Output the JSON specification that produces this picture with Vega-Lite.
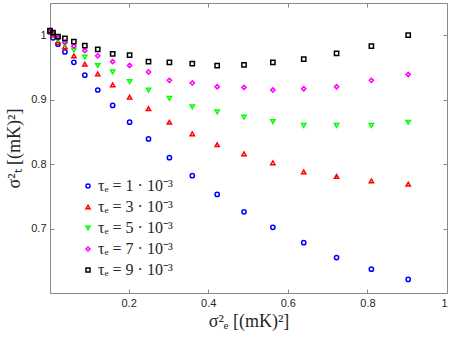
{
  "$schema": "https://vega.github.io/schema/vega-lite/v6.json",
  "width": 397,
  "height": 290,
  "autosize": {"type": "none"},
  "padding": {"left": 50, "top": 3, "right": 3, "bottom": 45},
  "background": "white",
  "config": {
    "view": {"stroke": "#8a8a8a", "strokeWidth": 1},
    "axis": {
      "grid": false,
      "domainColor": "#8a8a8a",
      "tickColor": "#8a8a8a",
      "tickSize": -4,
      "labelColor": "#262626",
      "labelFont": "Liberation Sans",
      "labelFontSize": 11,
      "titleFont": "Liberation Serif",
      "titleFontSize": 18,
      "titleFontWeight": "normal",
      "titleColor": "#262626"
    }
  },
  "data": {
    "values": [
      {"tau": "τₑ = 1 · 10⁻³", "x": 0.0025, "y": 1.005},
      {"tau": "τₑ = 1 · 10⁻³", "x": 0.01, "y": 0.996},
      {"tau": "τₑ = 1 · 10⁻³", "x": 0.0225, "y": 0.986},
      {"tau": "τₑ = 1 · 10⁻³", "x": 0.04, "y": 0.974},
      {"tau": "τₑ = 1 · 10⁻³", "x": 0.0625, "y": 0.958},
      {"tau": "τₑ = 1 · 10⁻³", "x": 0.09, "y": 0.938},
      {"tau": "τₑ = 1 · 10⁻³", "x": 0.1225, "y": 0.915},
      {"tau": "τₑ = 1 · 10⁻³", "x": 0.16, "y": 0.891},
      {"tau": "τₑ = 1 · 10⁻³", "x": 0.2025, "y": 0.865},
      {"tau": "τₑ = 1 · 10⁻³", "x": 0.25, "y": 0.839},
      {"tau": "τₑ = 1 · 10⁻³", "x": 0.3025, "y": 0.81},
      {"tau": "τₑ = 1 · 10⁻³", "x": 0.36, "y": 0.782},
      {"tau": "τₑ = 1 · 10⁻³", "x": 0.4225, "y": 0.753},
      {"tau": "τₑ = 1 · 10⁻³", "x": 0.49, "y": 0.726},
      {"tau": "τₑ = 1 · 10⁻³", "x": 0.5625, "y": 0.702},
      {"tau": "τₑ = 1 · 10⁻³", "x": 0.64, "y": 0.678},
      {"tau": "τₑ = 1 · 10⁻³", "x": 0.7225, "y": 0.655},
      {"tau": "τₑ = 1 · 10⁻³", "x": 0.81, "y": 0.637},
      {"tau": "τₑ = 1 · 10⁻³", "x": 0.9025, "y": 0.621},
      {"tau": "τₑ = 3 · 10⁻³", "x": 0.0025, "y": 1.006},
      {"tau": "τₑ = 3 · 10⁻³", "x": 0.01, "y": 1.0},
      {"tau": "τₑ = 3 · 10⁻³", "x": 0.0225, "y": 0.989},
      {"tau": "τₑ = 3 · 10⁻³", "x": 0.04, "y": 0.982},
      {"tau": "τₑ = 3 · 10⁻³", "x": 0.0625, "y": 0.968},
      {"tau": "τₑ = 3 · 10⁻³", "x": 0.09, "y": 0.955},
      {"tau": "τₑ = 3 · 10⁻³", "x": 0.1225, "y": 0.94},
      {"tau": "τₑ = 3 · 10⁻³", "x": 0.16, "y": 0.923},
      {"tau": "τₑ = 3 · 10⁻³", "x": 0.2025, "y": 0.904},
      {"tau": "τₑ = 3 · 10⁻³", "x": 0.25, "y": 0.886},
      {"tau": "τₑ = 3 · 10⁻³", "x": 0.3025, "y": 0.865},
      {"tau": "τₑ = 3 · 10⁻³", "x": 0.36, "y": 0.847},
      {"tau": "τₑ = 3 · 10⁻³", "x": 0.4225, "y": 0.83},
      {"tau": "τₑ = 3 · 10⁻³", "x": 0.49, "y": 0.816},
      {"tau": "τₑ = 3 · 10⁻³", "x": 0.5625, "y": 0.802},
      {"tau": "τₑ = 3 · 10⁻³", "x": 0.64, "y": 0.788},
      {"tau": "τₑ = 3 · 10⁻³", "x": 0.7225, "y": 0.781},
      {"tau": "τₑ = 3 · 10⁻³", "x": 0.81, "y": 0.774},
      {"tau": "τₑ = 3 · 10⁻³", "x": 0.9025, "y": 0.769},
      {"tau": "τₑ = 5 · 10⁻³", "x": 0.0025, "y": 1.006},
      {"tau": "τₑ = 5 · 10⁻³", "x": 0.01, "y": 1.002},
      {"tau": "τₑ = 5 · 10⁻³", "x": 0.0225, "y": 0.993},
      {"tau": "τₑ = 5 · 10⁻³", "x": 0.04, "y": 0.986},
      {"tau": "τₑ = 5 · 10⁻³", "x": 0.0625, "y": 0.977},
      {"tau": "τₑ = 5 · 10⁻³", "x": 0.09, "y": 0.966},
      {"tau": "τₑ = 5 · 10⁻³", "x": 0.1225, "y": 0.953},
      {"tau": "τₑ = 5 · 10⁻³", "x": 0.16, "y": 0.943},
      {"tau": "τₑ = 5 · 10⁻³", "x": 0.2025, "y": 0.928},
      {"tau": "τₑ = 5 · 10⁻³", "x": 0.25, "y": 0.915},
      {"tau": "τₑ = 5 · 10⁻³", "x": 0.3025, "y": 0.902},
      {"tau": "τₑ = 5 · 10⁻³", "x": 0.36, "y": 0.889},
      {"tau": "τₑ = 5 · 10⁻³", "x": 0.4225, "y": 0.881},
      {"tau": "τₑ = 5 · 10⁻³", "x": 0.49, "y": 0.873},
      {"tau": "τₑ = 5 · 10⁻³", "x": 0.5625, "y": 0.866},
      {"tau": "τₑ = 5 · 10⁻³", "x": 0.64, "y": 0.86},
      {"tau": "τₑ = 5 · 10⁻³", "x": 0.7225, "y": 0.86},
      {"tau": "τₑ = 5 · 10⁻³", "x": 0.81, "y": 0.86},
      {"tau": "τₑ = 5 · 10⁻³", "x": 0.9025, "y": 0.865},
      {"tau": "τₑ = 7 · 10⁻³", "x": 0.0025, "y": 1.006},
      {"tau": "τₑ = 7 · 10⁻³", "x": 0.01, "y": 1.003},
      {"tau": "τₑ = 7 · 10⁻³", "x": 0.0225, "y": 0.996},
      {"tau": "τₑ = 7 · 10⁻³", "x": 0.04, "y": 0.989},
      {"tau": "τₑ = 7 · 10⁻³", "x": 0.0625, "y": 0.983},
      {"tau": "τₑ = 7 · 10⁻³", "x": 0.09, "y": 0.976},
      {"tau": "τₑ = 7 · 10⁻³", "x": 0.1225, "y": 0.968},
      {"tau": "τₑ = 7 · 10⁻³", "x": 0.16, "y": 0.959},
      {"tau": "τₑ = 7 · 10⁻³", "x": 0.2025, "y": 0.953},
      {"tau": "τₑ = 7 · 10⁻³", "x": 0.25, "y": 0.943},
      {"tau": "τₑ = 7 · 10⁻³", "x": 0.3025, "y": 0.93},
      {"tau": "τₑ = 7 · 10⁻³", "x": 0.36, "y": 0.926},
      {"tau": "τₑ = 7 · 10⁻³", "x": 0.4225, "y": 0.92},
      {"tau": "τₑ = 7 · 10⁻³", "x": 0.49, "y": 0.919},
      {"tau": "τₑ = 7 · 10⁻³", "x": 0.5625, "y": 0.915},
      {"tau": "τₑ = 7 · 10⁻³", "x": 0.64, "y": 0.917},
      {"tau": "τₑ = 7 · 10⁻³", "x": 0.7225, "y": 0.92},
      {"tau": "τₑ = 7 · 10⁻³", "x": 0.81, "y": 0.93},
      {"tau": "τₑ = 7 · 10⁻³", "x": 0.9025, "y": 0.939},
      {"tau": "τₑ = 9 · 10⁻³", "x": 0.0025, "y": 1.007},
      {"tau": "τₑ = 9 · 10⁻³", "x": 0.01, "y": 1.004},
      {"tau": "τₑ = 9 · 10⁻³", "x": 0.0225, "y": 0.998},
      {"tau": "τₑ = 9 · 10⁻³", "x": 0.04, "y": 0.995},
      {"tau": "τₑ = 9 · 10⁻³", "x": 0.0625, "y": 0.99},
      {"tau": "τₑ = 9 · 10⁻³", "x": 0.09, "y": 0.984},
      {"tau": "τₑ = 9 · 10⁻³", "x": 0.1225, "y": 0.978},
      {"tau": "τₑ = 9 · 10⁻³", "x": 0.16, "y": 0.971},
      {"tau": "τₑ = 9 · 10⁻³", "x": 0.2025, "y": 0.969},
      {"tau": "τₑ = 9 · 10⁻³", "x": 0.25, "y": 0.959},
      {"tau": "τₑ = 9 · 10⁻³", "x": 0.3025, "y": 0.958},
      {"tau": "τₑ = 9 · 10⁻³", "x": 0.36, "y": 0.956},
      {"tau": "τₑ = 9 · 10⁻³", "x": 0.4225, "y": 0.953},
      {"tau": "τₑ = 9 · 10⁻³", "x": 0.49, "y": 0.954},
      {"tau": "τₑ = 9 · 10⁻³", "x": 0.5625, "y": 0.958},
      {"tau": "τₑ = 9 · 10⁻³", "x": 0.64, "y": 0.963},
      {"tau": "τₑ = 9 · 10⁻³", "x": 0.7225, "y": 0.972},
      {"tau": "τₑ = 9 · 10⁻³", "x": 0.81, "y": 0.983},
      {"tau": "τₑ = 9 · 10⁻³", "x": 0.9025, "y": 1.0}
    ]
  },
  "layer": [
    {
      "mark": {"type": "point", "opacity": 0},
      "encoding": {
        "x": {"field": "x", "type": "quantitative", "scale": {"domain": [0.0025, 1], "nice": false, "zero": false},
              "axis": {"orient": "top", "values": [0.2, 0.4, 0.6, 0.8, 1], "labels": false, "title": null, "domain": false}},
        "y": {"field": "y", "type": "quantitative", "scale": {"domain": [0.6, 1.05], "nice": false, "zero": false},
              "axis": {"orient": "right", "values": [0.7, 0.8, 0.9, 1], "labels": false, "title": null, "domain": false}}
      }
    },
    {
      "mark": {"type": "point", "filled": false, "strokeWidth": 1.5, "size": 18, "opacity": 1},
      "encoding": {
        "x": {"field": "x", "type": "quantitative", "scale": {"domain": [0.0025, 1], "nice": false, "zero": false},
              "axis": {"orient": "bottom", "values": [0.2, 0.4, 0.6, 0.8, 1], "format": "~g", "title": "σ²ₑ [(mK)²]", "labelPadding": 8, "titlePadding": 4}},
        "y": {"field": "y", "type": "quantitative", "scale": {"domain": [0.6, 1.05], "nice": false, "zero": false},
              "axis": {"orient": "left", "values": [0.7, 0.8, 0.9, 1], "format": "~g", "title": "σ²ₜ [(mK)²]", "labelPadding": 8, "titlePadding": 7}},
        "color": {"field": "tau", "type": "nominal",
                  "scale": {"domain": ["τₑ = 1 · 10⁻³", "τₑ = 3 · 10⁻³", "τₑ = 5 · 10⁻³", "τₑ = 7 · 10⁻³", "τₑ = 9 · 10⁻³"],
                            "range": ["#0000ff", "#ff0000", "#00ff00", "#ff00ff", "#000000"]},
                  "legend": {"orient": "none", "legendX": 30, "legendY": 175, "title": null, "labelFont": "Liberation Serif", "labelFontSize": 16, "labelColor": "#262626", "symbolSize": 16, "symbolStrokeWidth": 1.5, "rowPadding": 5, "labelOffset": 2, "padding": 0}},
        "shape": {"field": "tau", "type": "nominal",
                  "scale": {"domain": ["τₑ = 1 · 10⁻³", "τₑ = 3 · 10⁻³", "τₑ = 5 · 10⁻³", "τₑ = 7 · 10⁻³", "τₑ = 9 · 10⁻³"],
                            "range": ["circle", "triangle-up", "triangle-down", "diamond", "square"]}}
      }
    }
  ],
  "resolve": {"axis": {"x": "independent", "y": "independent"}}
}
